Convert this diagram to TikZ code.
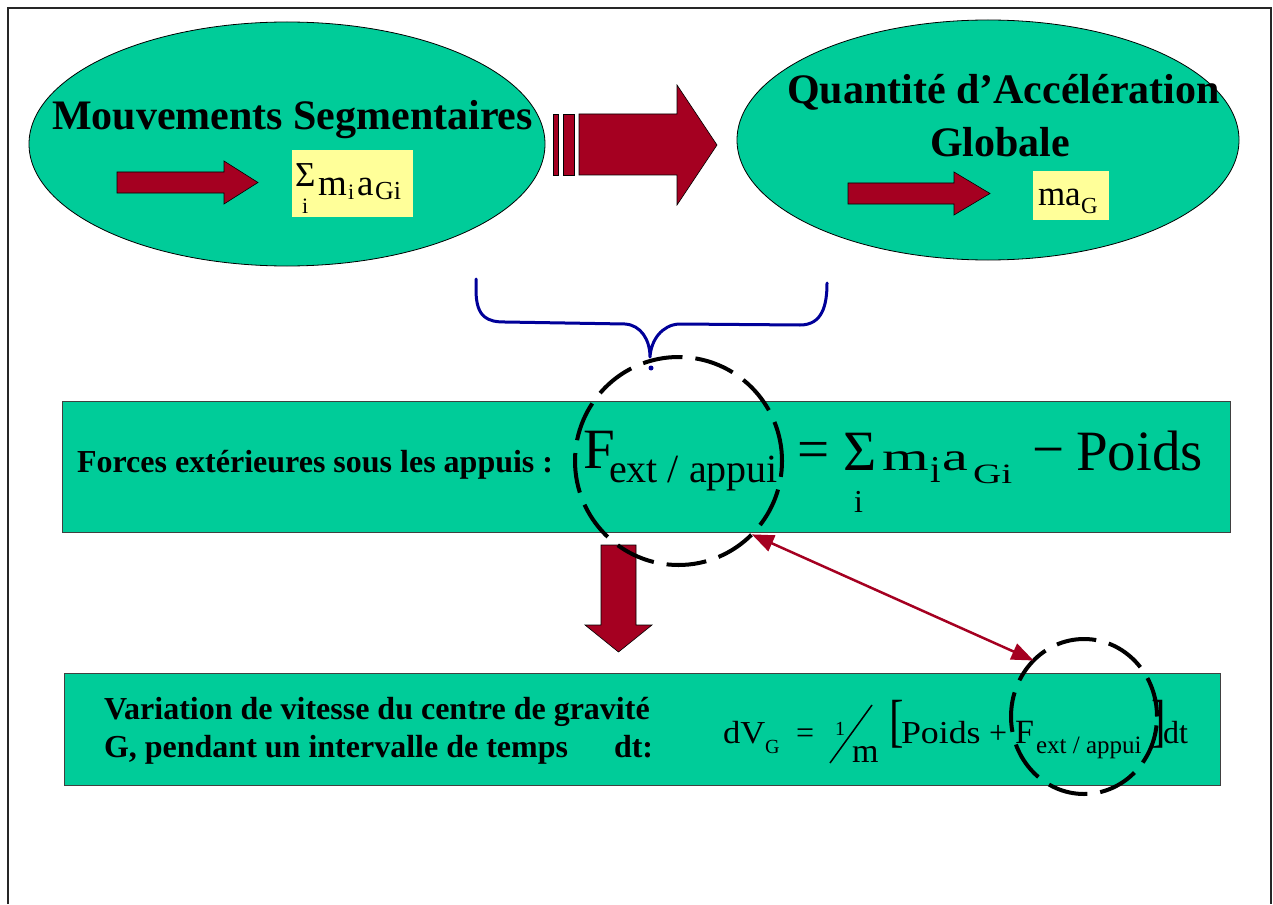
\documentclass[tikz,border=0pt]{standalone}
\usepackage{fontspec}
\usepackage{graphicx}
\setmainfont{Liberation Serif}
\usetikzlibrary{shapes.geometric,arrows.meta}
\definecolor{vert}{HTML}{00CC99}
\definecolor{rouge}{HTML}{A50021}
\definecolor{jaune}{HTML}{FFFF99}
\definecolor{bleu}{HTML}{000099}
\newcommand\myfs[1]{\fontsize{#1}{#1}\selectfont}
\begin{document}
\begin{tikzpicture}[x=1pt,y=-1pt,
  txt/.style={anchor=base west,inner sep=0pt,outer sep=0pt},
  bulle/.style={ellipse,draw=black,line width=0.8pt,fill=vert,inner sep=0pt,outer sep=0pt},
  cadre/.style={draw=black!75,line width=1pt,fill=vert,inner sep=0pt,outer sep=0pt},
  fleche/.style={fill=rouge,draw=black,line width=0.6pt},
  cercle/.style={ellipse,draw=black,line width=4pt,dash pattern=on 40pt off 13pt,inner sep=0pt,outer sep=0pt},
  jaunebox/.style={fill=jaune,inner sep=0pt,outer sep=0pt},
  lien/.style={draw=rouge,line width=2.5pt,{Triangle[length=22pt,width=17pt]}-{Triangle[length=22pt,width=17pt]}},
  accolade/.style={draw=bleu,line width=3pt,line cap=round,line join=round}
]
\useasboundingbox (0,0) rectangle (1273,904);
\fill[white] (0,0) rectangle (1273,904);
% frame
\draw[line width=2pt,black!85] (8,904) -- (8,8) -- (1271,8) -- (1271,904);

% ellipses
\node[bulle,minimum width=516pt,minimum height=244pt] (ms) at (287,144) {};
\node[bulle,minimum width=502pt,minimum height=240pt] (qa) at (988,140) {};

% big arrow between ellipses
\filldraw[fleche] (553,114) rectangle (558,175);
\filldraw[fleche] (563,114) rectangle (574,175);
\filldraw[fleche] (579,114) -- (677,114) -- (677,85) -- (717,145) -- (677,205) -- (677,175) -- (579,175) -- cycle;

% small arrows in ellipses
\filldraw[fleche] (117,172) -- (224,172) -- (224,161) -- (258,182.5) -- (224,204) -- (224,193) -- (117,193) -- cycle;
\filldraw[fleche] (848,183) -- (954,183) -- (954,172) -- (990,193.5) -- (954,215) -- (954,204) -- (848,204) -- cycle;

% yellow boxes
\node[jaunebox,minimum width=121pt,minimum height=67pt] (y1) at (352.5,183.5) {};
\node[jaunebox,minimum width=76pt,minimum height=49pt] (y2) at (1071,195.5) {};

% titles
\node[txt,font=\myfs{42}\bfseries] (t1) at (52,130) {Mouvements Segmentaires};
\node[txt,font=\myfs{42}\bfseries] (t2) at (787,104) {Quantité d’Accélération};
\node[anchor=base,inner sep=0pt,font=\myfs{42}\bfseries] (t3) at (1000,157) {Globale};

% left yellow content
\node[txt,font=\myfs{35}] (s1) at (295,186) {Σ};
\node[txt,font=\myfs{22}] (s1i) at (302,213) {i};
\node[txt,font=\myfs{37}] (s1m) at (318,195) {m};
\node[txt,font=\myfs{22}] (s1mi) at (348,199) {i};
\node[txt,font=\myfs{37}] (s1a) at (357,195) {a};
\node[txt,font=\myfs{26}] (s1g) at (375,199) {Gi};

% right yellow content
\node[txt,font=\myfs{35}] (ma) at (1038,205) {ma};
\node[txt,font=\myfs{23}] (maG) at (1081,213) {G};

% boxes
\node[cadre,minimum width=1168pt,minimum height=131pt] (b1) at (646,466.5) {};
\node[cadre,minimum width=1156pt,minimum height=112pt] (b2) at (642,729) {};

% down arrow
\filldraw[fleche] (601,545) -- (636,545) -- (636,625) -- (652,625) -- (618.5,652) -- (585,625) -- (601,625) -- cycle;

% box 1 text
\node[txt,font=\myfs{32}\bfseries] (fl) at (77,472) {Forces extérieures sous les appuis :};
\node[txt,font=\myfs{57}] (F1) at (583,468) {F};
\node[txt,font=\myfs{40}] (F1s) at (609,482) {ext / appui};
\node[txt,font=\myfs{57}] (eq1) at (797,468) {=};
\node[txt,font=\myfs{57}] (sig) at (843,470) {Σ};
\node[txt,font=\myfs{32}] (sigi) at (854,512) {i};
\node[txt,font=\myfs{40}] (m1) at (882,470) {\scalebox{1.5}[1]{m}};
\node[txt,font=\myfs{38}] (m1i) at (930,482) {i};
\node[txt,font=\myfs{40}] (a1) at (942,470) {\scalebox{1.45}[1]{a}};
\node[txt,font=\myfs{28}] (g1) at (973,483) {\scalebox{1.4}[1]{Gi}};
\node[txt,font=\myfs{57}] (mn) at (1032,468) {−};
\node[txt,font=\myfs{57}] (p1) at (1076,470) {Poids};

% box 2 text
\node[txt,font=\myfs{32}\bfseries] (v1) at (104,719) {Variation de vitesse du centre de gravité};
\node[txt,font=\myfs{32}\bfseries] (v2) at (104,757) {G, pendant un intervalle de temps};
\node[txt,font=\myfs{32}\bfseries] (v3) at (614,757) {dt:};

\node[txt,font=\myfs{32}] (dv) at (723,743) {\scalebox{1.08}[1]{dV}};
\node[txt,font=\myfs{20}] (dvg) at (765,753) {G};
\node[txt,font=\myfs{32}] (eq2) at (796,743) {=};
\node[txt,font=\myfs{20}] (un) at (835,735) {1};
\draw[line width=1.5pt] (830,763) -- (872,705);
\node[txt,font=\myfs{34}] (m2) at (852,762) {m};
\node[txt,font=\myfs{58}] (lb) at (889,740) {\scalebox{0.75}[1]{[}};
\node[txt,font=\myfs{32}] (p2) at (901,743) {\scalebox{1.12}[1]{Poids}};
\node[txt,font=\myfs{32}] (pl) at (989,743) {+};
\node[txt,font=\myfs{34}] (F2) at (1015,743) {F};
\node[txt,font=\myfs{25}] (F2s) at (1036,753) {ext / appui};
\node[txt,font=\myfs{58}] (rb) at (1151,740) {\scalebox{0.75}[1]{]}};
\node[txt,font=\myfs{32}] (dt) at (1163,743) {dt};

% dashed circles
\node[cercle,minimum width=207pt,minimum height=208pt] (c1) at (678.5,461) {};
\node[cercle,minimum width=146pt,minimum height=155pt] (c2) at (1084,716.5) {};

% double arrow
\draw[lien] (c1.-45) -- (c2.132.6);

% brace
\draw[accolade] (476,279) -- (476,290) .. controls (476,318) and (488,322) .. (505,322) -- (625,324) .. controls (641,325) and (650,340) .. (650,357) .. controls (651,340) and (662,325) .. (679,324) -- (800,325) .. controls (822,325) and (827,306) .. (827,283);
\fill[bleu] (651,368) circle[radius=2.5pt];
\end{tikzpicture}
\end{document}
